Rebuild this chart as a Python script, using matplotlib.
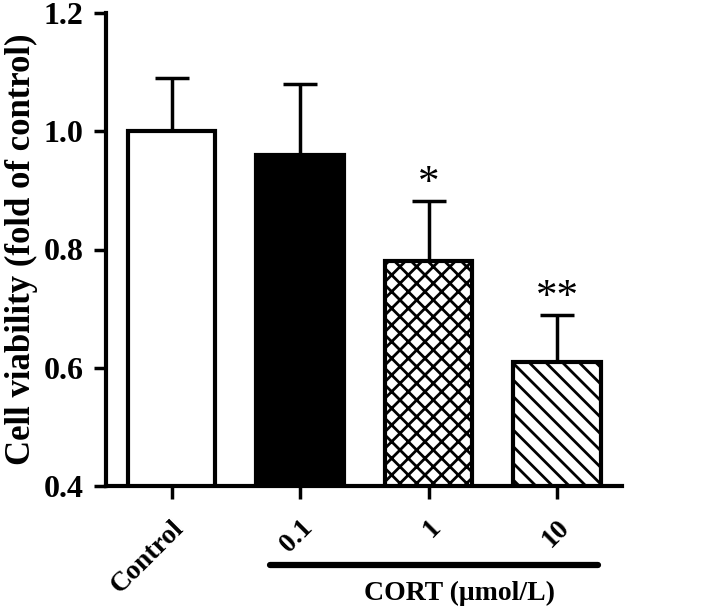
import matplotlib
matplotlib.use("Agg")
import matplotlib.pyplot as plt

# --- data ---
groups = ["Control", "0.1", "1", "10"]
means = [1.00, 0.96, 0.78, 0.61]
sem = [0.09, 0.12, 0.102, 0.08]
stars = ["", "", "*", "**"]
faces = ["white", "black", "white", "white"]
hatches = ["", "", "xx", "\\\\"]

plt.rcParams["font.family"] = ["Liberation Serif", "DejaVu Serif"]
plt.rcParams["font.weight"] = "bold"
plt.rcParams["hatch.linewidth"] = 2.0

fig = plt.figure(figsize=(7.09, 6.10), dpi=100)
ax = fig.add_axes([106 / 709, 1 - 486 / 610, (622 - 106) / 709, (486 - 13) / 610])

x = list(range(len(groups)))
ax.bar(x, means, width=0.68, bottom=0, color=faces, edgecolor="black",
       linewidth=3, hatch=hatches, zorder=2)
ax.errorbar(x, means, yerr=[[0] * len(sem), sem], fmt="none", ecolor="black",
            elinewidth=2.5, capsize=12, capthick=2.5, zorder=1)

for xi, m, s, st in zip(x, means, sem, stars):
    if st:
        ax.text(xi, m + s - 0.004, st, ha="center", va="bottom", fontsize=31,
                fontweight="normal")

ax.set_xlim(-0.51, 3.506)
ax.set_ylim(0.4, 1.2)
ax.set_yticks([0.4, 0.6, 0.8, 1.0, 1.2])
ax.set_yticklabels(["0.4", "0.6", "0.8", "1.0", "1.2"], fontsize=23, fontweight="bold")
ax.set_xticks(x)
ax.set_xticklabels(groups, rotation=45, ha="right", rotation_mode="anchor",
                   fontsize=20, fontweight="bold")
ax.tick_params(axis="both", width=2.5, length=9)
ax.tick_params(axis="y", pad=7)
ax.tick_params(axis="x", pad=12)
ax.spines["top"].set_visible(False)
ax.spines["right"].set_visible(False)
ax.spines["left"].set_linewidth(3)
ax.spines["bottom"].set_linewidth(3)
ax.set_ylabel("Cell viability (fold of control)", fontsize=25, fontweight="bold", labelpad=4)

# CORT bracket line under the treated groups
fig.add_artist(plt.Line2D([270 / 709, 598 / 709], [1 - 565 / 610, 1 - 565 / 610],
                          color="black", linewidth=4.5, solid_capstyle="round"))
fig.text(460 / 709, 1 - 593 / 610, "CORT (\u03bcmol/L)", ha="center", va="center",
         fontsize=20, fontweight="bold")

fig.savefig("out.png", dpi=100)
